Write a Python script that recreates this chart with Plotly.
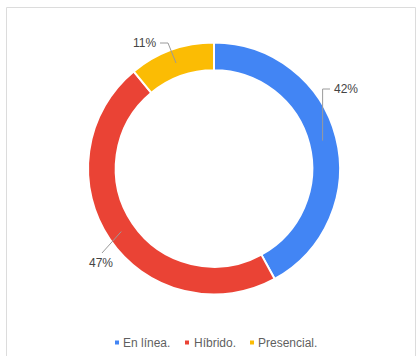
import math
import plotly.graph_objects as go

# Survey answer shares (percent)
categories = ["En línea.", "Híbrido.", "Presencial."]
shares = [42, 47, 11]
colors = ["#4285F4", "#EA4335", "#FBBC04"]

W, H = 419, 356
CX, CY, R = 214, 168.5, 126      # donut centre and outer radius in pixels
HOLE = 0.78


def px(x):
    return x / W


def py(y):
    return 1 - y / H


fig = go.Figure()
fig.add_trace(go.Pie(
    labels=categories,
    values=shares,
    marker=dict(colors=colors, line=dict(color="white", width=2)),
    hole=HOLE,
    sort=False,
    direction="clockwise",
    rotation=0,
    textinfo="none",
    hoverinfo="label+percent",
    showlegend=False,
    domain=dict(x=[px(CX - R), px(CX + R)], y=[py(CY + R), py(CY - R)]),
))

# Anchor of each leader line: middle of the slice, halfway through the ring
total = sum(shares)
ring_r = R * (1 + HOLE) / 2
anchors = []
cum = 0
for v in shares:
    mid = (cum + v / 2) / total * 2 * math.pi
    anchors.append((CX + ring_r * math.sin(mid), CY - ring_r * math.cos(mid)))
    cum += v

# Label placement and elbow of each leader line (pixels)
label_pos = [(332, 89, "left"), (101, 263, "center"), (158, 43, "right")]
elbows = [
    [(None, 89), (330, 89)],
    [(102, 253)],
    [(168, 43), (160, 43)],
]

shapes = []
annotations = []
for i, v in enumerate(shares):
    ax, ay = anchors[i]
    pts = [(ax, ay)]
    for ex, ey in elbows[i]:
        pts.append((ax if ex is None else ex, ey))
    path = "M " + " L ".join(f"{px(x)},{py(y)}" for x, y in pts)
    shapes.append(dict(type="path", xref="paper", yref="paper", path=path,
                       line=dict(color="#9a9a9a", width=1)))
    lx, ly, anc = label_pos[i]
    annotations.append(dict(x=px(lx), y=py(ly), xref="paper", yref="paper",
                            text=f"{v}%", showarrow=False, xanchor=anc,
                            yanchor="middle",
                            font=dict(size=12, color="#444444")))

# Legend row: small square swatch followed by the category name
legend_items = [(117, 121), (187, 192), (252, 256)]
LEG_Y = 342.5
for (mx, tx), name, col in zip(legend_items, categories, colors):
    shapes.append(dict(type="rect", xref="paper", yref="paper",
                       x0=px(mx - 2), x1=px(mx + 2),
                       y0=py(LEG_Y + 2), y1=py(LEG_Y - 2),
                       fillcolor=col, line=dict(width=0)))
    annotations.append(dict(x=px(tx), y=py(LEG_Y), xref="paper", yref="paper",
                            text=name, showarrow=False, xanchor="left",
                            yanchor="middle",
                            font=dict(size=12, color="#5f5f5f")))

# Light frame around the chart
shapes.append(dict(type="rect", xref="paper", yref="paper",
                   x0=px(6.5), x1=px(415.5), y0=py(400), y1=py(7.5),
                   line=dict(color="#dcdcdc", width=1), fillcolor="rgba(0,0,0,0)"))

fig.update_layout(
    width=W, height=H,
    margin=dict(l=0, r=0, t=0, b=0),
    paper_bgcolor="white",
    plot_bgcolor="white",
    font=dict(family="Liberation Sans, Arial, sans-serif"),
    shapes=shapes,
    annotations=annotations,
    showlegend=False,
)

fig.write_html("out.html")
